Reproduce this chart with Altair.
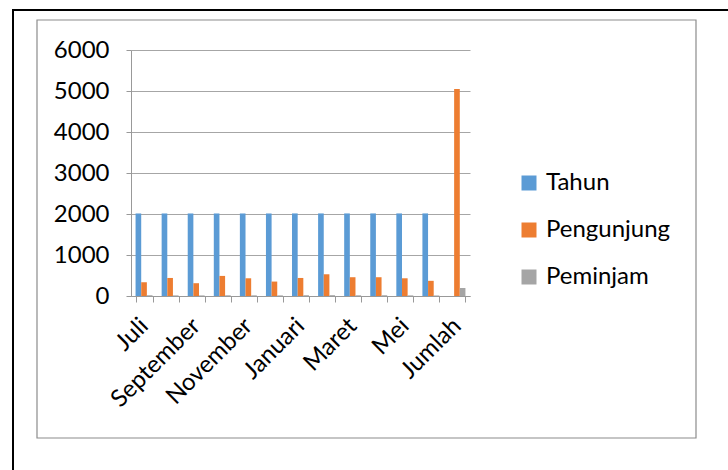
import altair as alt
import pandas as pd

bulan = ["Juli", "Agustus", "September", "Oktober", "November", "Desember",
         "Januari", "Februari", "Maret", "April", "Mei", "Juni", "Jumlah"]
tahun = [2013, 2013, 2013, 2013, 2013, 2013, 2014, 2014, 2014, 2014, 2014, 2014, 0]
pengunjung = [335, 440, 312, 490, 432, 352, 440, 530, 458, 458, 432, 370, 5049]
peminjam = [18, 15, 14, 17, 16, 15, 19, 20, 17, 16, 15, 13, 195]
seri = ["Tahun", "Pengunjung", "Peminjam"]
warna = ["#5B9BD5", "#ED7D31", "#A5A5A5"]
y_ticks = [0, 1000, 2000, 3000, 4000, 5000, 6000]
hidden_labels = ["Agustus", "Oktober", "Desember", "Februari", "April", "Juni"]

rows = []
for i, b in enumerate(bulan):
    for s, vals in zip(seri, [tahun, pengunjung, peminjam]):
        rows.append({"Bulan": b, "Seri": s, "Nilai": vals[i]})
df = pd.DataFrame(rows)

FONT = "Lato"
FS = 24
hidden_js = "[" + ",".join("'" + h + "'" for h in hidden_labels) + "]"

bars = alt.Chart(df).mark_bar().encode(
    x=alt.X("Bulan:N", sort=bulan, title=None,
            scale=alt.Scale(paddingInner=0.35, paddingOuter=0.175),
            axis=alt.Axis(labelAngle=-45, labelAlign="right", labelBaseline="middle",
                          labelFont=FONT, labelFontSize=FS, labelColor="#000000",
                          labelPadding=20, labelOverlap=False,
                          labelExpr="indexof(" + hidden_js + ", datum.value) >= 0 ? '' : datum.label",
                          tickBand="extent", tickSize=6, tickColor="#999999",
                          domainColor="#999999", grid=False)),
    xOffset=alt.XOffset("Seri:N", sort=seri, scale=alt.Scale(paddingInner=0, paddingOuter=0)),
    y=alt.Y("Nilai:Q", title=None,
            scale=alt.Scale(domain=[0, 6000], nice=False),
            axis=alt.Axis(values=y_ticks, format="d", labelFont=FONT, labelFontSize=FS,
                          labelColor="#000000", labelPadding=17, tickSize=5,
                          tickColor="#999999", domainColor="#999999",
                          gridColor="#A6A6A6", grid=True)),
    color=alt.Color("Seri:N", sort=seri,
                    scale=alt.Scale(domain=seri, range=warna),
                    legend=alt.Legend(title=None, orient="none", legendX=386, legendY=121,
                                      symbolType="square", symbolSize=225, symbolStrokeWidth=0,
                                      labelFont=FONT, labelFontSize=FS, labelColor="#000000",
                                      labelOffset=5, rowPadding=23)),
)

one = pd.DataFrame({"k": [0]})
frame_gray = alt.Chart(one).mark_rect(fill=None, stroke="#8C8C8C", strokeWidth=1.2).encode(
    x=alt.value(-94), x2=alt.value(565), y=alt.value(-30), y2=alt.value(388))
frame_left = alt.Chart(one).mark_rule(color="#000000", strokeWidth=2).encode(
    x=alt.value(-118), y=alt.value(-40), y2=alt.value(420))
frame_top = alt.Chart(one).mark_rule(color="#000000", strokeWidth=2).encode(
    x=alt.value(-119), x2=alt.value(597), y=alt.value(-40))

chart = alt.layer(frame_gray, frame_left, frame_top, bars).properties(
    width=339, height=246,
    autosize="none",
    padding={"left": 131, "top": 50, "right": 258, "bottom": 174},
    background="#FFFFFF",
).configure_view(stroke=None)

chart.save("out.html", embed_options={"renderer": "svg", "actions": False})
